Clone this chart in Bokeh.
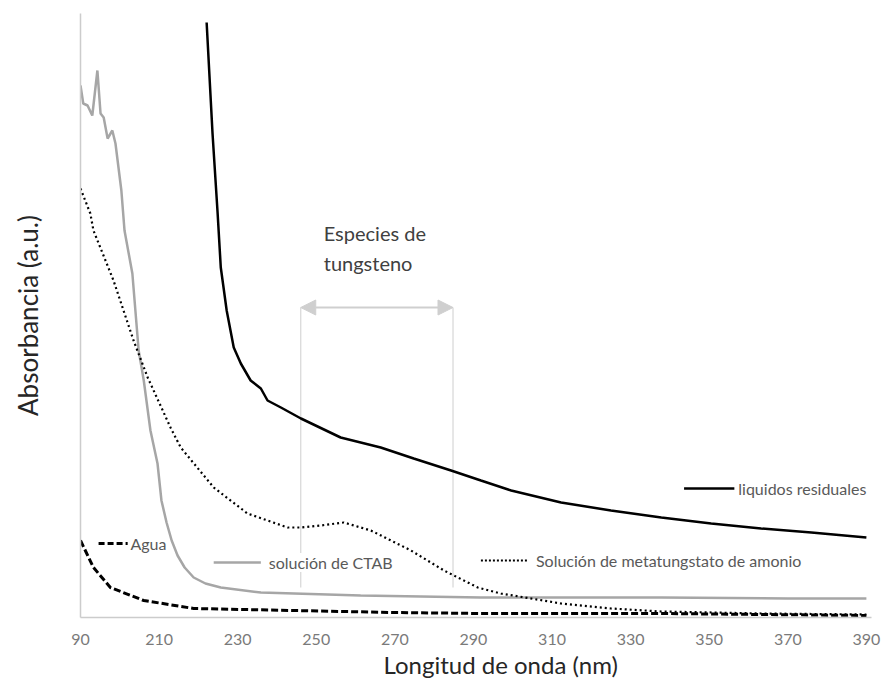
from bokeh.plotting import figure
from bokeh.models import Label, Arrow, NormalHead, FixedTicker, Title
from bokeh.embed import file_html
from bokeh.resources import INLINE

# ---------------- data (wavelength nm, absorbance a.u.) ----------------
liq_x = [222.1, 223.6, 224.9, 225.7, 226.4, 227.2, 229.0, 230.8, 233.3, 235.9, 237.6,
         241.0, 246.1, 256.2, 266.4, 274.8, 284.3, 291.9, 299.6, 312.3, 325.0, 337.8,
         350.5, 363.2, 376.0, 390.0]
liq_y = [2.975, 2.42, 2.02, 1.75, 1.65, 1.535, 1.35, 1.27, 1.185, 1.145, 1.085,
         1.05, 0.995, 0.90, 0.85, 0.795, 0.735, 0.685, 0.635, 0.575, 0.535, 0.50,
         0.47, 0.445, 0.425, 0.40]

ctab_x = [190.0, 190.7, 191.8, 193.0, 194.3, 195.1, 195.9, 196.9, 198.1, 198.9, 200.4,
          201.2, 203.2, 204.8, 206.1, 207.8, 209.6, 210.6, 211.9, 213.2, 214.7, 216.5,
          218.8, 221.8, 225.7, 235.9, 261.3, 291.9, 337.8, 370.0, 390.0]
ctab_y = [2.66, 2.57, 2.56, 2.51, 2.735, 2.52, 2.50, 2.395, 2.435, 2.37, 2.135,
          1.935, 1.72, 1.335, 1.185, 0.935, 0.77, 0.585, 0.475, 0.385, 0.31, 0.25,
          0.20, 0.17, 0.15, 0.125, 0.11, 0.10, 0.10, 0.095, 0.095]

meta_x = [190.0, 192.5, 193.3, 198.4, 203.5, 207.1, 212.9, 215.5, 223.9, 232.5, 242.7,
          246.1, 251.1, 257.0, 263.9, 274.1, 282.5, 291.1, 297.0, 312.3, 325.0, 337.8,
          363.2, 390.0]
meta_y = [2.145, 2.02, 1.935, 1.685, 1.385, 1.20, 0.95, 0.85, 0.65, 0.52, 0.45,
          0.45, 0.46, 0.475, 0.435, 0.335, 0.235, 0.15, 0.12, 0.07, 0.045, 0.03,
          0.02, 0.015]

agua_x = [190.0, 193.3, 197.6, 206.1, 218.8, 244.3, 269.7, 291.9, 337.8, 390.0]
agua_y = [0.385, 0.25, 0.15, 0.085, 0.045, 0.035, 0.025, 0.02, 0.02, 0.01]

tick_values = [190, 210, 230, 250, 270, 290, 310, 330, 350, 370, 390]
tick_labels = ["90", "210", "230", "250", "270", "290", "310", "330", "350", "370", "390"]

species_range = [246.05, 284.8]   # "Especies de tungsteno" bracket (nm)

# ---------------- styles ----------------
FONT = "Lato"
TXT = "#595959"
BLACK = "#000000"
GRAY = "#a6a6a6"

p = figure(width=881, height=681, x_range=(190, 391.3), y_range=(0, 3.02),
           output_backend="svg", toolbar_location=None,
           min_border_left=80, min_border_right=10, min_border_top=13, min_border_bottom=64)
p.outline_line_color = None
p.xgrid.visible = False
p.ygrid.visible = False
p.background_fill_color = "white"

# axes
p.xaxis.ticker = FixedTicker(ticks=tick_values)
p.xaxis.major_label_overrides = {v: l for v, l in zip(tick_values, tick_labels)}
p.xaxis.major_tick_line_color = None
p.xaxis.minor_tick_line_color = None
p.xaxis.major_tick_out = 0
p.xaxis.major_label_standoff = 16
p.xaxis.major_label_text_font = FONT
p.xaxis.major_label_text_font_size = "16px"
p.xaxis.major_label_text_color = "#7a7a7a"
p.xaxis.axis_line_color = "#cccccc"
p.xaxis.axis_line_width = 1.5

p.yaxis.ticker = FixedTicker(ticks=[])
p.yaxis.major_tick_line_color = None
p.yaxis.minor_tick_line_color = None
p.yaxis.major_tick_out = 0
p.yaxis.axis_line_color = "#cccccc"
p.yaxis.axis_line_width = 1.5
p.yaxis.axis_label = "Absorbancia (a.u.)"
p.yaxis.axis_label_text_font = FONT
p.yaxis.axis_label_text_font_size = "26px"
p.yaxis.axis_label_text_font_style = "normal"
p.yaxis.axis_label_text_color = "#262626"
p.yaxis.axis_label_standoff = 37

# x-axis title (Title below, shifted right like the reference)
p.add_layout(Title(text="Longitud de onda (nm)", align="left", offset=303,
                   text_font=FONT, text_font_size="24px", text_font_style="normal",
                   text_color="#262626", standoff=0), "below")

# annotation bracket (drawn first, under curves)
arrow_y = 1.55
bracket_bottom = 0.15
p.segment(x0=species_range, y0=[arrow_y, arrow_y], x1=species_range,
          y1=[bracket_bottom, bracket_bottom], line_color="#d6d6d6", line_width=1.2)
p.add_layout(Arrow(x_start=species_range[0], y_start=arrow_y,
                   x_end=species_range[1], y_end=arrow_y,
                   line_color="#cfcfcf", line_width=2,
                   start=NormalHead(size=15, fill_color="#cfcfcf", line_color="#cfcfcf"),
                   end=NormalHead(size=15, fill_color="#cfcfcf", line_color="#cfcfcf")))

# curves
p.line(agua_x, agua_y, line_color=BLACK, line_width=3, line_dash="7 3")
p.line(ctab_x, ctab_y, line_color=GRAY, line_width=2.5)
p.line(meta_x, meta_y, line_color=BLACK, line_width=2.2, line_dash="2 3")
p.line(liq_x, liq_y, line_color=BLACK, line_width=2.5)

# inline legend entries
def legend_entry(x0, x1, y, tx, text, color, width, dash, bg=None):
    p.line([x0, x1], [y, y], line_color=color, line_width=width, line_dash=dash)
    lab = Label(x=tx, y=y, text=text, text_font=FONT, text_font_size="16px",
                text_color=TXT, text_baseline="middle", text_align="left")
    if bg:
        lab.background_fill_color = bg
    p.add_layout(lab)

legend_entry(343.6, 356.4, 0.645, 357.4, "liquidos residuales", BLACK, 2.5, "solid")
legend_entry(291.9, 304.1, 0.285, 305.9, "Solución de metatungstato de amonio", BLACK, 2, "2 2")
legend_entry(223.9, 235.9, 0.275, 237.9, "solución de CTAB", GRAY, 2.5, "solid", bg="white")
legend_entry(194.6, 202.0, 0.37, 202.7, "Agua", BLACK, 3, "6 3")

# annotation text
p.add_layout(Label(x=251.9, y=1.925, text="Especies de", text_font=FONT,
                   text_font_size="20px", text_color="#404040", text_baseline="middle"))
p.add_layout(Label(x=251.9, y=1.775, text="tungsteno", text_font=FONT,
                   text_font_size="20px", text_color="#404040", text_baseline="middle"))

open("out.html", "w").write(file_html(p, INLINE))
